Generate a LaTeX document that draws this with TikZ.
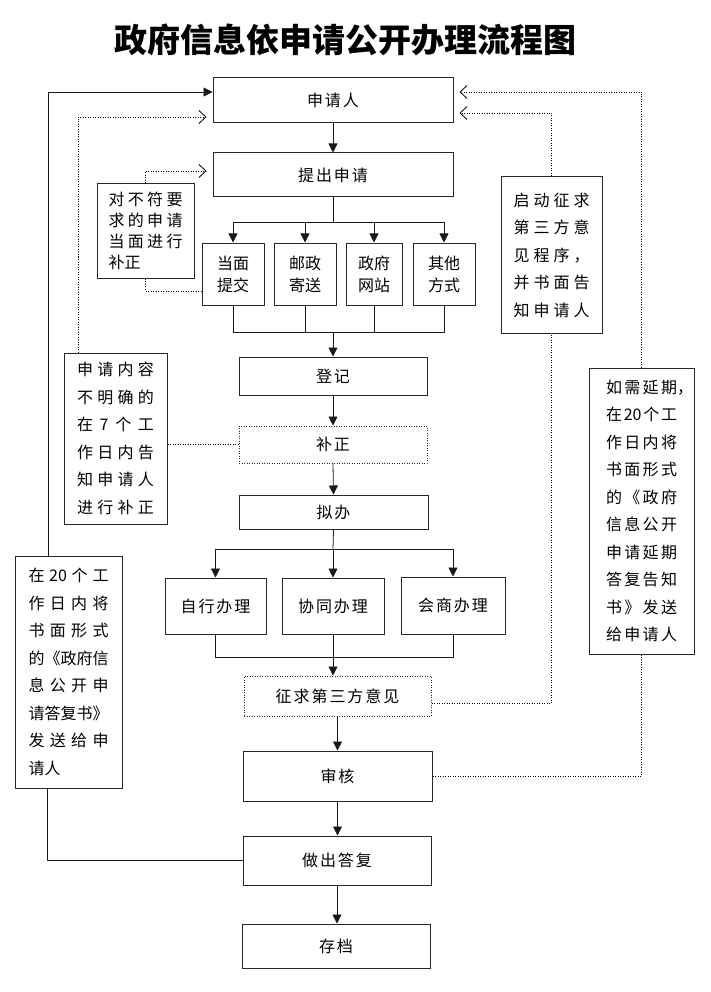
\documentclass[tikz,border=0pt]{standalone}
\usepackage{fontspec}
\setmainfont{Noto Sans CJK SC}
\newfontfamily\cjkw[LetterSpace=12]{Noto Sans CJK SC}
\usetikzlibrary{arrows.meta}
\newlength\jw
\def\J#1{\makebox[\jw][s]{\Jfirst#1\relax}}
\def\Jfirst#1{#1\Jrest}
\def\Jrest#1{\ifx\relax#1\else\hfil#1\expandafter\Jrest\fi}
\tikzset{
  box/.style={draw=black!85, line width=1pt, inner sep=0pt, align=center,
    font=\cjkw\fontsize{16}{22}\selectfont},
  dbox/.style={box, dash pattern=on 1pt off 1.5pt},
  note/.style={draw=black!85, line width=1pt, inner sep=0pt, align=left,
    font=\fontsize{16}{27.5}\selectfont},
  ln/.style={line width=0.8pt, draw=black!90},
  arr/.style={ln, -{Triangle[length=9pt,width=9pt]}},
  dln/.style={line width=0.8pt, dash pattern=on 1pt off 1.5pt},
  darr/.style={dln, -{Straight Barb[length=7pt,width=13pt]}, shorten >=6pt},
}
\begin{document}
\begin{tikzpicture}[x=1pt,y=-1pt]
\useasboundingbox (0,0) rectangle (711,992);
\node (title) at (345,40) {\fontsize{33}{33}\selectfont\bfseries 政府信息依申请公开办理流程图};

% main column
\node[box, minimum width=240pt, minimum height=45pt] (sqr) at (333,100.5) {申请人};
\node[box, minimum width=240pt, minimum height=44pt] (tc) at (333,175) {提出申请};
\node[box, minimum width=62pt, minimum height=62pt, font=\fontsize{16}{22}\selectfont] (dm) at (233,274) {当面\\提交};
\node[box, minimum width=62pt, minimum height=62pt, font=\fontsize{16}{22}\selectfont] (yz) at (305,274) {邮政\\寄送};
\node[box, minimum width=56pt, minimum height=62pt, font=\fontsize{16}{22}\selectfont] (zf) at (374,274) {政府\\网站};
\node[box, minimum width=62pt, minimum height=62pt, font=\fontsize{16}{22}\selectfont] (qt) at (444,274) {其他\\方式};
\node[box, minimum width=188pt, minimum height=38pt] (dj) at (333,376) {登记};
\node[dbox, minimum width=188pt, minimum height=37pt] (bz) at (333,444.5) {补正};
\node[box, minimum width=189pt, minimum height=34pt] (nb) at (333.5,512) {拟办};
\node[box, minimum width=101pt, minimum height=56pt] (zx) at (215.5,606) {自行办理};
\node[box, minimum width=102pt, minimum height=56pt] (xt) at (333,606) {协同办理};
\node[box, minimum width=104pt, minimum height=57pt] (hs) at (453,605.5) {会商办理};
\node[dbox, minimum width=187pt, minimum height=40pt] (zq) at (337.5,696) {征求第三方意见};
\node[box, minimum width=189pt, minimum height=50pt] (sh) at (337.5,776) {审核};
\node[box, minimum width=188pt, minimum height=49pt] (zd) at (337,860.5) {做出答复};
\node[box, minimum width=188pt, minimum height=44pt] (cd) at (336,946) {存档};

% side notes
\setlength\jw{74pt}
\node[note, minimum width=97pt, minimum height=94pt, font=\fontsize{16}{21}\selectfont] (bz1) at (145.5,231)
  {\J{对不符要}\\\J{求的申请}\\\J{当面进行}\\补正};
\setlength\jw{77pt}
\node[note, minimum width=103pt, minimum height=171pt] (sqnr) at (115.5,438.5)
  {\J{申请内容}\\\J{不明确的}\\\J{在7个工}\\\J{作日内告}\\\J{知申请人}\\\J{进行补正}};
\setlength\jw{76pt}
\node[note, minimum width=101pt, minimum height=156pt] (qd) at (551.5,255)
  {\J{启动征求}\\\J{第三方意}\\\J{见程序，}\\\J{并书面告}\\\J{知申请人}};
\setlength\jw{71pt}
\node[note, minimum width=105pt, minimum height=286pt] (yq) at (641.5,511)
  {\J{如需延期}\rlap{，}\\\J{在{20}个工}\\\J{作日内将}\\\J{书面形式}\\\J{的《政府}\\\J{信息公开}\\\J{申请延期}\\\J{答复告知}\\\J{书》发送}\\\J{给申请人}};
\setlength\jw{80pt}
\node[note, minimum width=107pt, minimum height=232pt] (d20) at (68.5,672)
  {\J{在{20}个工}\\\J{作日内将}\\\J{书面形式}\\\J{的《政府信}\\\J{息公开申}\\\J{请答复书》}\\\J{发送给申}\\请人\hspace{40pt}};

% main flow connectors
\draw[arr] (sqr.south) -- (tc.north);
\coordinate (b1) at (333,222);
\draw[ln] (tc.south) -- (b1);
\draw[ln] (dm.north |- b1) -- (qt.north |- b1);
\foreach \n in {dm,yz,zf,qt} \draw[arr] (\n.north |- b1) -- (\n.north);
\coordinate (b2) at (333,332);
\draw[ln] (dm.south) -- (dm.south |- b2) -- (qt.south |- b2) -- (qt.south);
\draw[ln] (yz.south) -- (yz.south |- b2);
\draw[ln] (zf.south) -- (zf.south |- b2);
\draw[arr] (b2) -- (dj.north);
\draw[arr] (dj.south) -- (bz.north);
\draw[arr] (bz.south) -- (nb.north);
\coordinate (b3) at (333,549);
\draw[ln] (nb.south) -- (b3);
\draw[ln] (zx.north |- b3) -- (hs.north |- b3);
\foreach \n in {zx,xt,hs} \draw[arr] (\n.north |- b3) -- (\n.north);
\coordinate (b4) at (333,657);
\draw[ln] (zx.south) -- (zx.south |- b4) -- (hs.south |- b4) -- (hs.south);
\draw[arr] (xt.south) -- (xt.south |- zq.north);
\draw[arr] (zq.south) -- (zq.south |- sh.north);
\draw[arr] (sh.south) -- (sh.south |- zd.north);
\draw[arr] (zd.south) -- (zd.south |- cd.north);

% left solid loop
\draw[ln] (zd.west) -| ([xshift=-21pt]d20.south);
\draw[arr] ([xshift=-20pt]d20.north) |- ([yshift=8.5pt]sqr.west);

% dotted connectors
\draw[darr] (bz1.north) |- ([yshift=4pt]tc.west);
\draw[dln] (bz1.south) |- ([yshift=-17pt]dm.west);
\draw[darr] ([xshift=-37.5pt]sqnr.north) |- ([yshift=-16.5pt]sqr.west);
\draw[dln] (bz.west -| sqnr.east) -- (bz.west);
\draw[dln] ([yshift=-7pt]zq.east) -| (qd.south);
\draw[darr] (qd.north) |- ([yshift=-12.5pt]sqr.east);
\draw[dln] (sh.east) -| (yq.south);
\draw[darr] (yq.north) |- ([yshift=8.5pt]sqr.east);
\end{tikzpicture}
\end{document}
